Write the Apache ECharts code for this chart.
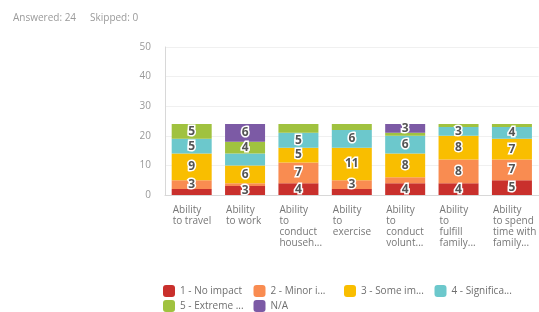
<!DOCTYPE html>
<html>
<head>
<meta charset="utf-8">
<script src="https://cdn.jsdelivr.net/npm/echarts@6/dist/echarts.min.js"></script>
<style>
html,body{margin:0;padding:0;background:#fff;}
#chart{width:539px;height:312px;}
</style>
</head>
<body>
<div id="chart"></div>
<script>
// categories as shown (already wrapped / cut)
var categories = [
    'Ability\nto travel',
    'Ability\nto work',
    'Ability\nto\nconduct\nhouseh...',
    'Ability\nto\nexercise',
    'Ability\nto\nconduct\nvolunt...',
    'Ability\nto\nfulfill\nfamily...',
    'Ability\nto spend\ntime with\nfamily...'
];
var seriesNames = ['1 - No impact', '2 - Minor impact', '3 - Some impact', '4 - Significant impact', '5 - Extreme impact', 'N/A'];
var seriesColors = ['#c9302c', '#f98c51', '#f9be00', '#6cc8cc', '#a0c23f', '#7c5aa5'];
var noImpact    = [2, 3, 4, 2, 4, 4, 5];
var minorImpact = [3, 1, 7, 3, 2, 8, 7];
var someImpact  = [9, 6, 5, 11, 8, 8, 7];
var significant = [5, 4, 5, 6, 6, 3, 4];
var extreme     = [5, 4, 3, 2, 1, 1, 1];
var notApplic   = [0, 6, 0, 0, 3, 0, 0];
var yTicks = [0, 10, 20, 30, 40, 50];
// segments the original leaves without a number
var hiddenLabels = {'3-1': true, '4-2': true};

var allValues = [noImpact, minorImpact, someImpact, significant, extreme, notApplic];

const chart = echarts.init(document.getElementById('chart'));
var font = "'Open Sans', sans-serif";

var series = allValues.map(function (vals, si) {
    return {
        name: seriesNames[si],
        type: 'bar',
        stack: 'total',
        barWidth: 40,
        itemStyle: { color: seriesColors[si] },
        label: {
            show: true,
            position: 'inside',
            fontFamily: font,
            fontSize: 12,
            fontWeight: 'bold',
            color: '#555',
            textBorderColor: '#fff',
            textBorderWidth: 3,
            formatter: function (p) {
                if (p.value < 3 || hiddenLabels[si + '-' + p.dataIndex]) return '';
                return p.value;
            }
        },
        data: vals
    };
});

// one legend per entry so the columns line up like the original (4 per row)
var legends = seriesNames.map(function (name, i) {
    return {
        left: 158 + (i % 4) * 90.5,
        top: i < 4 ? 280 : 295,
        itemWidth: 12,
        itemHeight: 12,
        icon: 'roundRect',
        textStyle: {
            fontSize: 10,
            color: '#6f6f6f',
            fontFamily: font,
            width: 66,
            overflow: 'truncate',
            ellipsis: '...'
        },
        data: [name]
    };
});

var option = {
    animation: false,
    textStyle: { fontFamily: font },
    title: [
        { text: 'Answered: 24', left: 8, top: 8, textStyle: { fontSize: 10, fontWeight: 'normal', color: '#9a9a9a', fontFamily: font } },
        { text: 'Skipped: 0', left: 85, top: 8, textStyle: { fontSize: 10, fontWeight: 'normal', color: '#9a9a9a', fontFamily: font } }
    ],
    legend: legends,
    grid: {
        left: 165,
        top: 47,
        width: 380,
        height: 148
    },
    xAxis: {
        type: 'category',
        data: categories,
        axisLine: { lineStyle: { color: '#d8d8d8' } },
        axisTick: { show: false },
        axisLabel: {
            interval: 0,
            margin: 10,
            formatter: function (v) {
                return v.split('\n').map(function (s) { return '{a|' + s + '}'; }).join('\n');
            },
            rich: {
                a: { width: 38, align: 'left', fontSize: 10, lineHeight: 11, color: '#777', fontFamily: font }
            }
        }
    },
    yAxis: {
        type: 'value',
        min: yTicks[0],
        max: yTicks[yTicks.length - 1],
        interval: 10,
        axisLine: { show: true, lineStyle: { color: '#d8d8d8' } },
        axisTick: { show: false },
        axisLabel: { fontSize: 10, color: '#999', margin: 14, fontFamily: font },
        splitLine: { lineStyle: { color: '#f0f0f0' } }
    },
    series: series
};
option && chart.setOption(option);
</script>
</body>
</html>
